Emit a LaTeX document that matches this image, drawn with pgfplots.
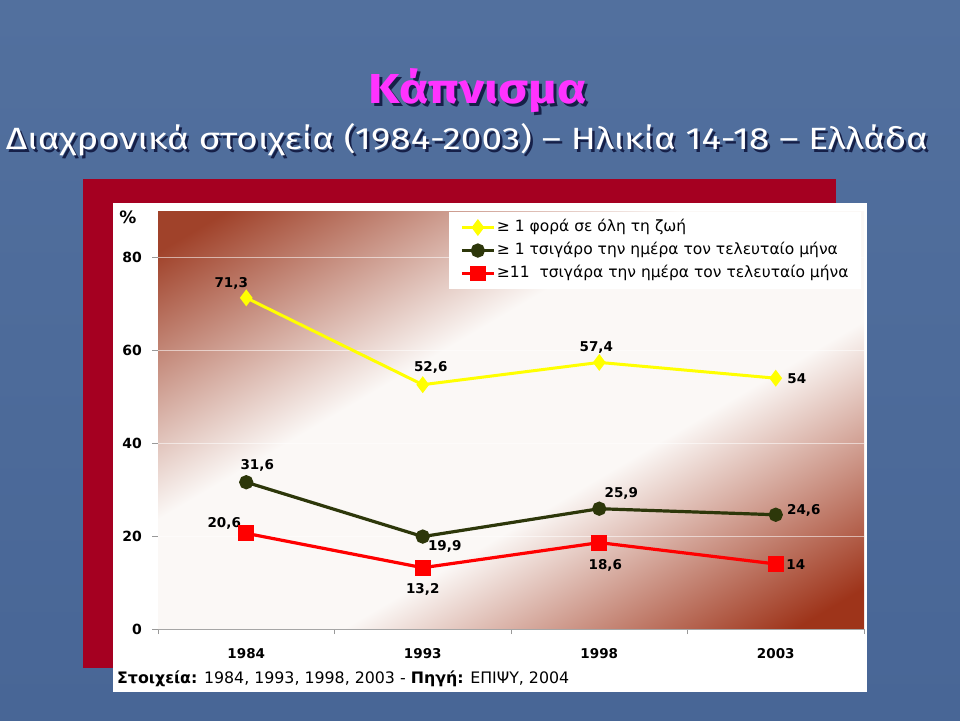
\documentclass[border=0pt]{standalone}
\usepackage{pgfplots}
\pgfplotsset{compat=1.18}
\usepackage{fontspec}
\usepackage{graphicx}
\setmainfont{DejaVu Sans}
\newfontfamily\titlefont{Fira Sans}
\definecolor{bgtop}{RGB}{82,112,158}
\definecolor{bgbot}{RGB}{72,102,150}
\definecolor{panelred}{RGB}{165,0,33}
\definecolor{darkTL}{RGB}{160,66,42}
\definecolor{darkBR}{RGB}{158,52,26}
\definecolor{lightmid}{RGB}{251,248,246}
\definecolor{titlemag}{RGB}{255,51,255}
\definecolor{shadowc}{RGB}{22,32,72}
\definecolor{oliveline}{RGB}{45,55,10}
\definecolor{myyellow}{RGB}{255,255,0}
\definecolor{myred}{RGB}{255,0,0}
\pgfdeclarehorizontalshading{plotbg}{100bp}{color(0bp)=(darkTL); color(19bp)=(darkTL); color(41bp)=(lightmid); color(59bp)=(lightmid); color(81bp)=(darkBR); color(100bp)=(darkBR)}
\newcommand{\lbl}{\bfseries\fontsize{13.5}{15}\selectfont}
\newcommand{\titletext}{\resizebox{218pt}{35pt}{\titlefont\bfseries Κάπνισμα}}
\newcommand{\subtext}{\resizebox{922pt}{26pt}{\titlefont Διαχρονικά στοιχεία (1984-2003) – Ηλικία 14-18 – Ελλάδα}}
\begin{document}
\begin{tikzpicture}[x=1pt,y=1pt]
% slide background
\shade[top color=bgtop, bottom color=bgbot] (0,0) rectangle (960,720);
% title with shadow (single node)
\node[anchor=base, inner sep=0] at (478,720-104) {\makebox[0pt][l]{\hspace{3pt}\raisebox{-3pt}{\color{shadowc}\titletext}}\textcolor{titlemag}{\titletext}};
% subtitle with shadow (single node)
\node[anchor=base, inner sep=0] at (467,720-150) {\makebox[0pt][l]{\hspace{2.5pt}\raisebox{-2.5pt}{\color{shadowc}\subtext}}\textcolor{white}{\subtext}};
% panels
\fill[panelred] (83,720-668) rectangle (836,720-179);
\fill[white] (113,720-692) rectangle (867,720-203);
% percent sign
\node[inner sep=0] at (128,720-217) {\bfseries\fontsize{17}{18}\selectfont\%};
% footer
\node[anchor=base west, inner sep=0] at (117,720-683) {\fontsize{15.8}{18}\selectfont\textbf{Στοιχεία:} 1984, 1993, 1998, 2003 - \textbf{Πηγή:} ΕΠΙΨΥ, 2004};
\begin{axis}[
  at={(158pt,91pt)}, anchor=south west,
  scale only axis, width=706pt, height=418pt,
  xmin=0, xmax=4, ymin=0, ymax=90,
  xtick={0.5,1.5,2.5,3.5}, xticklabels={1984,1993,1998,2003},
  minor xtick={0,1,2,3,4},
  ytick={0,20,40,60,80},
  tick pos=left, tick align=outside,
  major x tick style={draw=none},
  major tick length=6pt, minor tick length=5pt,
  tick style={gray!80, line width=0.6pt},
  axis line style={draw=none},
  ymajorgrids, major grid style={white, line width=0.8pt, opacity=0.55},
  axis background/.style={shade, shading=plotbg, shading angle=-59.4},
  /pgf/number format/assume math mode=true,
  xticklabel style={anchor=center, yshift=-19pt, font=\lbl},
  yticklabel style={anchor=east, inner sep=0pt, xshift=-10pt, font=\bfseries\fontsize{14}{15}\selectfont},
  legend style={at={(rel axis cs:0.996,0.998)}, anchor=north east, draw=none, fill=white,
    font=\fontsize{15.5}{17}\selectfont, row sep=4pt, inner xsep=11pt, inner ysep=6pt,
    nodes={text height=12pt, text depth=4pt, inner sep=1.5pt}},
  legend cell align=left,
  legend image code/.code={\draw[#1, mark=none] (0pt,0pt) -- (32pt,0pt);
     \draw[#1, only marks] plot coordinates {(16pt,0pt)};},
  clip=false,
]
\addplot[myyellow, line width=3pt, mark=diamond*, mark size=6pt, mark options={solid, fill=myyellow}]
  coordinates {(0.5,71.3) (1.5,52.6) (2.5,57.4) (3.5,54)};
\addlegendentry{≥ 1 φορά σε όλη τη ζωή}
\addplot[oliveline, line width=3.2pt, mark=*, mark size=5.5pt, mark options={solid, fill=oliveline}]
  coordinates {(0.5,31.6) (1.5,19.9) (2.5,25.9) (3.5,24.6)};
\addlegendentry{≥ 1 τσιγάρο την ημέρα τον τελευταίο μήνα}
\addplot[myred, line width=3.2pt, mark=square*, mark size=6.3pt, mark options={solid, fill=myred}]
  coordinates {(0.5,20.6) (1.5,13.2) (2.5,18.6) (3.5,14)};
\addlegendentry{≥11~ τσιγάρα την ημέρα τον τελευταίο μήνα}
% data labels
\node[font=\lbl, xshift=-15pt, yshift=14pt] at (axis cs:0.5,71.3) {71,3};
\node[font=\lbl, xshift=8pt, yshift=17pt] at (axis cs:1.5,52.6) {52,6};
\node[font=\lbl, xshift=-3pt, yshift=15pt] at (axis cs:2.5,57.4) {57,4};
\node[font=\lbl, xshift=21pt, yshift=0pt] at (axis cs:3.5,54) {54};
\node[font=\lbl, xshift=11pt, yshift=17pt] at (axis cs:0.5,31.6) {31,6};
\node[font=\lbl, xshift=22pt, yshift=-10pt] at (axis cs:1.5,19.9) {19,9};
\node[font=\lbl, xshift=22pt, yshift=15pt] at (axis cs:2.5,25.9) {25,9};
\node[font=\lbl, xshift=28pt, yshift=4pt] at (axis cs:3.5,24.6) {24,6};
\node[font=\lbl, xshift=-22pt, yshift=10pt] at (axis cs:0.5,20.6) {20,6};
\node[font=\lbl, xshift=0pt, yshift=-22pt] at (axis cs:1.5,13.2) {13,2};
\node[font=\lbl, xshift=6pt, yshift=-23pt] at (axis cs:2.5,18.6) {18,6};
\node[font=\lbl, xshift=20pt, yshift=-1pt] at (axis cs:3.5,14) {14};
\end{axis}
\draw[gray!70, line width=0.7pt] (158,91) -- (864,91);
\end{tikzpicture}
\end{document}
